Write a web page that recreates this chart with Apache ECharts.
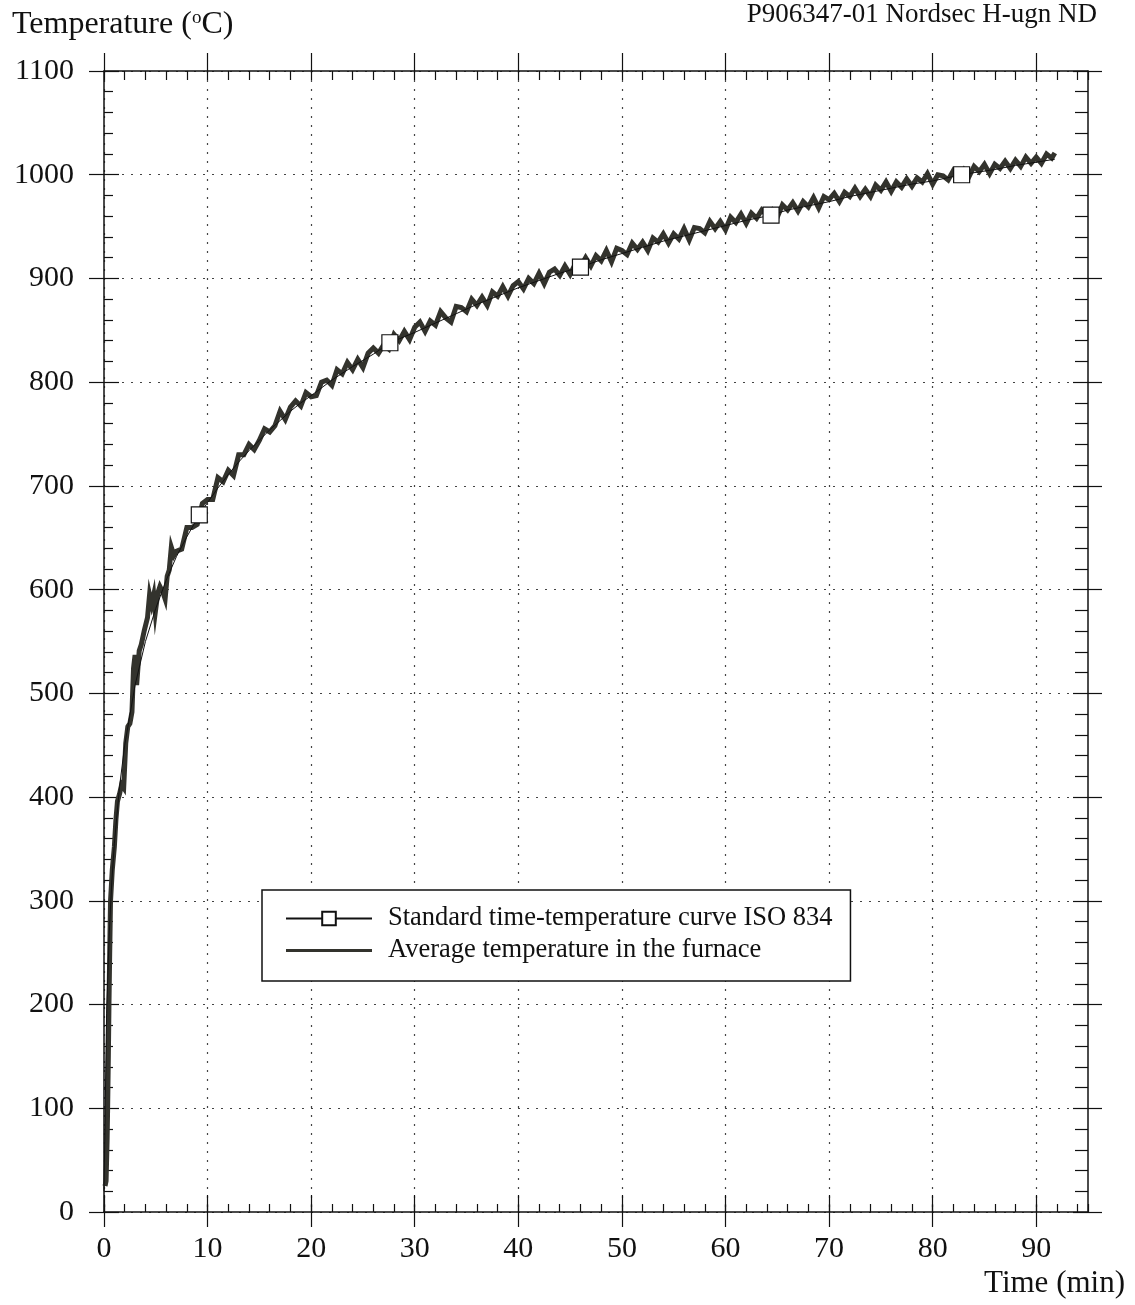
<!DOCTYPE html>
<html>
<head>
<meta charset="utf-8">
<title>Furnace temperature</title>
<script src="https://cdn.jsdelivr.net/npm/echarts@6/dist/echarts.min.js"></script>
<style>
  html, body { margin: 0; padding: 0; background: #fff; }
  #chart { width: 1135px; height: 1305px; }
</style>
</head>
<body>
<div id="chart"></div>
<script>
// time (min), temperature (C)
const isoName = 'Standard time-temperature curve ISO 834'
const furnaceName = 'Average temperature in the furnace'

const isoCurve = [
  [0, 20], [0.25, 191], [0.5, 267], [0.75, 318], [1, 355], [1.5, 410], [2, 450],
  [3, 508], [4, 550], [5, 582], [6, 609], [7, 632], [8, 651], [9.2, 672], [10, 684],
  [11, 698], [12, 711], [13, 723], [14, 734], [15, 744], [16, 754], [17, 763],
  [18, 772], [19, 780], [20, 787], [22, 802], [24, 815], [26, 827], [27.6, 838],
  [30, 848], [32, 857], [34, 866], [36, 875], [38, 883], [40, 891], [42, 898],
  [44, 905], [46, 911], [48, 918], [50, 924], [52, 930], [54, 936], [56, 941],
  [58, 946], [60, 951], [62, 956], [64.4, 961], [66, 966], [68, 970], [70, 974],
  [72, 979], [74, 983], [76, 987], [78, 991], [80, 994], [82.8, 1000], [84, 1002],
  [86, 1005], [88, 1009], [90, 1012], [91.8, 1015]
]
const isoMarkTimes = [9.2, 27.6, 46, 64.4, 82.8]

const furnace = [
  [0.1, 25], [0.2, 30], [0.3, 70], [0.35, 100], [0.42, 150], [0.48, 200], [0.55, 250],
  [0.63, 300], [0.8, 330], [1.0, 352], [1.15, 378], [1.3, 396], [1.5, 403], [1.7, 412],
  [1.9, 409], [2.1, 452], [2.3, 468], [2.5, 471], [2.7, 482], [2.85, 524], [3.0, 537],
  [3.15, 508], [3.4, 541], [3.6, 547], [3.9, 561], [4.2, 573], [4.4, 595], [4.6, 586],
  [4.8, 595], [4.95, 578], [5.2, 597], [5.4, 603], [5.7, 597], [5.9, 591], [6.1, 613],
  [6.3, 619], [6.5, 641], [6.75, 633],
  [7, 637], [7.5, 639], [8, 660], [8.5, 660], [9, 663], [9.5, 683], [10, 687], [10.5, 687],
  [11, 708], [11.5, 704], [12, 715], [12.5, 710], [13, 730], [13.5, 730], [14, 740], [14.5, 735],
  [15, 744], [15.5, 755], [16, 752], [16.5, 758], [17, 772], [17.5, 764], [18, 776], [18.5, 782],
  [19, 777], [19.5, 790], [20, 786], [20.5, 787], [21, 800], [21.5, 802], [22, 797], [22.5, 812],
  [23, 808], [23.5, 819], [24, 812], [24.5, 822], [25, 814], [25.5, 828], [26, 833], [26.5, 828],
  [27, 836], [27.5, 832], [28, 846], [28.5, 840], [29, 849], [29.5, 841], [30, 853], [30.5, 858],
  [31, 849], [31.5, 859], [32, 855], [32.5, 868], [33, 862], [33.5, 858], [34, 873], [34.5, 872],
  [35, 868], [35.5, 880], [36, 874], [36.5, 882], [37, 874], [37.5, 887], [38, 883], [38.5, 892],
  [39, 883], [39.5, 893], [40, 897], [40.5, 890], [41, 900], [41.5, 895], [42, 905], [42.5, 895],
  [43, 906], [43.5, 909], [44, 903], [44.5, 912], [45, 904], [45.5, 914], [46, 911], [46.5, 920],
  [47, 912], [47.5, 922], [48, 917], [48.5, 927], [49, 916], [49.5, 929], [50, 927], [50.5, 923],
  [51, 934], [51.5, 928], [52, 935], [52.5, 927], [53, 939], [53.5, 935], [54, 943], [54.5, 934],
  [55, 943], [55.5, 938], [56, 948], [56.5, 937], [57, 949], [57.5, 948], [58, 944], [58.5, 955],
  [59, 948], [59.5, 955], [60, 947], [60.5, 959], [61, 954], [61.5, 962], [62, 953], [62.5, 963],
  [63, 958], [63.5, 966], [64, 961], [64.5, 966], [65, 959], [65.5, 971], [66, 966], [66.5, 973],
  [67, 965], [67.5, 974], [68, 969], [68.5, 978], [69, 968], [69.5, 979], [70, 976], [70.5, 982],
  [71, 974], [71.5, 983], [72, 979], [72.5, 987], [73, 979], [73.5, 986], [74, 979], [74.5, 990],
  [75, 985], [75.5, 993], [76, 984], [76.5, 993], [77, 988], [77.5, 996], [78, 989], [78.5, 997],
  [79, 993], [79.5, 1001], [80, 991], [80.5, 1000], [81, 999], [81.5, 995], [82, 1004], [82.5, 999],
  [83, 1005], [83.5, 998], [84, 1008], [84.5, 1003], [85, 1010], [85.5, 1001], [86, 1010], [86.5, 1006],
  [87, 1013], [87.5, 1006], [88, 1014], [88.5, 1008], [89, 1017], [89.5, 1011], [90, 1017], [90.5, 1011],
  [91, 1020], [91.5, 1016], [91.8, 1021]
]

const xMajorTicks = [0, 10, 20, 30, 40, 50, 60, 70, 80, 90]

const serif = "'Liberation Serif', 'DejaVu Serif', serif"
const ink = '#111'
const gridBox = { left: 104, top: 71, width: 984, height: 1141 }

const chart = echarts.init(document.getElementById('chart'), null, { renderer: 'canvas' })

function plainAxis(extra) {
  return Object.assign({
    type: 'value',
    axisLine: { show: false, onZero: false },
    axisLabel: { show: false },
    splitLine: { show: false },
    axisTick: { show: false }
  }, extra)
}

const tickStyle = { color: ink, width: 1.2 }

const option = {
  animation: false,
  backgroundColor: '#fff',
  title: [
    {
      text: 'Temperature ({sup|o}C)',
      left: 12,
      top: 9,
      padding: 0,
      textStyle: {
        fontFamily: serif,
        fontSize: 32,
        fontWeight: 'normal',
        color: ink,
        rich: {
          sup: { fontFamily: serif, fontSize: 19, color: ink, verticalAlign: 'top' }
        }
      }
    },
    {
      text: 'P906347-01 Nordsec H-ugn ND',
      right: 38,
      top: 1,
      padding: 0,
      textStyle: { fontFamily: serif, fontSize: 27, fontWeight: 'normal', color: ink }
    },
    {
      text: 'Time (min)',
      right: 10,
      top: 1268,
      padding: 0,
      textStyle: { fontFamily: serif, fontSize: 31, fontWeight: 'normal', color: ink }
    }
  ],
  legend: {
    orient: 'vertical',
    left: 262,
    top: 890,
    padding: [15, 18, 17, 23],
    itemGap: 5,
    itemWidth: 86,
    itemHeight: 17,
    backgroundColor: '#fff',
    borderColor: ink,
    borderWidth: 1.5,
    borderRadius: 0,
    textStyle: { fontFamily: serif, fontSize: 26.5, color: ink, padding: [0, 0, 0, 11] },
    data: [
      { name: isoName },
      { name: furnaceName, icon: 'path://M0,0H86V3H0Z' }
    ]
  },
  grid: [
    Object.assign({}, gridBox),
    Object.assign({}, gridBox),
    Object.assign({}, gridBox)
  ],
  xAxis: [
    {
      type: 'value', gridIndex: 0, position: 'bottom', min: 0, max: 95, interval: 10,
      axisLine: { onZero: false, lineStyle: { color: ink, width: 1.5 } },
      axisTick: { inside: true, length: 17, lineStyle: tickStyle, customValues: xMajorTicks },
      axisLabel: { margin: 22, fontFamily: serif, fontSize: 30, color: ink, customValues: xMajorTicks },
      splitLine: { show: true, lineStyle: { type: [2, 7], color: '#444', width: 1.2 } }
    },
    {
      type: 'value', gridIndex: 0, position: 'top', min: 0, max: 95, interval: 10,
      axisLine: { onZero: false, lineStyle: { color: ink, width: 1.5 } },
      axisTick: { inside: false, length: 18, lineStyle: tickStyle, customValues: xMajorTicks },
      axisLabel: { show: false },
      splitLine: { show: false }
    },
    plainAxis({
      gridIndex: 1, position: 'bottom', min: 0, max: 95, interval: 2,
      axisTick: { show: true, inside: true, length: 8, lineStyle: tickStyle }
    }),
    plainAxis({
      gridIndex: 1, position: 'top', min: 0, max: 95, interval: 2,
      axisTick: { show: true, inside: true, length: 9, lineStyle: tickStyle }
    }),
    plainAxis({
      gridIndex: 2, position: 'bottom', min: 0, max: 95, interval: 10,
      axisTick: { show: true, inside: false, length: 15, lineStyle: tickStyle, customValues: xMajorTicks }
    })
  ],
  yAxis: [
    {
      type: 'value', gridIndex: 0, position: 'left', min: 0, max: 1100, interval: 100,
      axisLine: { show: true, onZero: false, lineStyle: { color: ink, width: 1.5 } },
      axisTick: { show: true, inside: true, length: 15, lineStyle: tickStyle },
      minorTick: { show: true, splitNumber: 5, length: 9, lineStyle: tickStyle },
      axisLabel: { margin: 30, fontFamily: serif, fontSize: 30, color: ink, formatter: v => String(v) },
      splitLine: { show: true, lineStyle: { type: [2, 7], color: '#444', width: 1.2 } }
    },
    {
      type: 'value', gridIndex: 0, position: 'right', min: 0, max: 1100, interval: 100,
      axisLine: { show: true, onZero: false, lineStyle: { color: ink, width: 1.5 } },
      axisTick: { show: true, inside: true, length: 15, lineStyle: tickStyle },
      minorTick: { show: true, splitNumber: 5, length: 13, lineStyle: tickStyle },
      axisLabel: { show: false },
      splitLine: { show: false }
    },
    plainAxis({
      gridIndex: 1, position: 'left', min: 0, max: 1100, interval: 100
    }),
    plainAxis({
      gridIndex: 1, position: 'right', min: 0, max: 1100, interval: 100
    }),
    plainAxis({
      gridIndex: 2, position: 'left', min: 0, max: 1100, interval: 100,
      axisTick: { show: true, inside: false, length: 15, lineStyle: tickStyle }
    }),
    plainAxis({
      gridIndex: 2, position: 'right', min: 0, max: 1100, interval: 100,
      axisTick: { show: true, inside: false, length: 14, lineStyle: tickStyle }
    })
  ],
  series: [
    {
      name: furnaceName,
      type: 'line',
      xAxisIndex: 0,
      yAxisIndex: 0,
      z: 3,
      data: furnace,
      symbol: 'none',
      color: '#33332d',
      lineStyle: { color: '#33332d', width: 5, join: 'miter' },
      emphasis: { disabled: true }
    },
    {
      name: isoName,
      type: 'line',
      xAxisIndex: 0,
      yAxisIndex: 0,
      z: 4,
      data: isoCurve.map(p => ({
        value: p,
        symbol: isoMarkTimes.includes(p[0]) ? 'rect' : 'none'
      })),
      symbol: 'rect',
      symbolSize: 16,
      showAllSymbol: true,
      color: ink,
      lineStyle: { color: ink, width: 1 },
      itemStyle: { color: '#fff', borderColor: ink, borderWidth: 1.2 },
      emphasis: { disabled: true }
    }
  ]
}

chart.setOption(option)
</script>
</body>
</html>
